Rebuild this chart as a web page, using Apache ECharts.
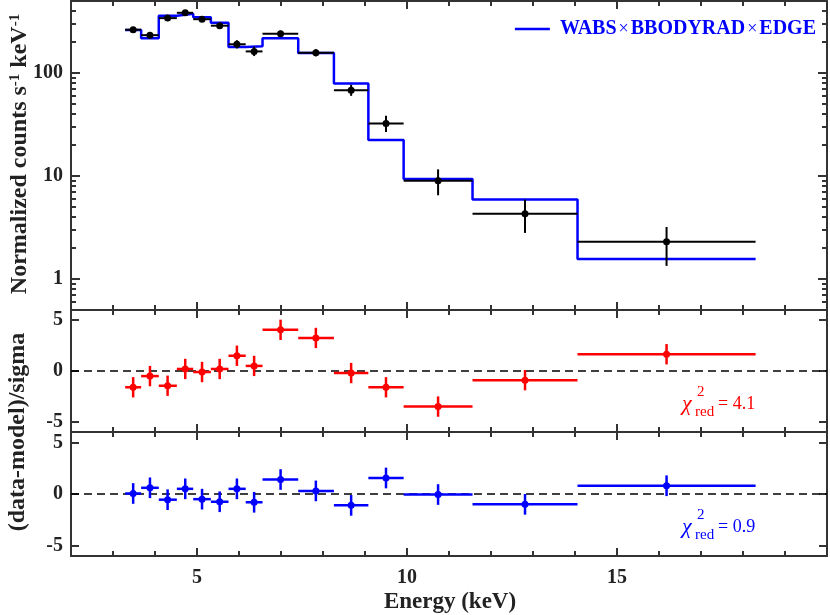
<!DOCTYPE html>
<html>
<head>
<meta charset="utf-8">
<script src="https://cdn.jsdelivr.net/npm/echarts@6.0.0/dist/echarts.min.js"></script>
<style>
  html, body { margin: 0; padding: 0; background: #fff; }
  #chart { width: 830px; height: 615px; }
</style>
</head>
<body>
<div id="chart"></div>
<script>
// spectral bins (keV)
const binLo = [3.29, 3.67, 4.09, 4.52, 4.91, 5.33, 5.75, 6.16, 6.56, 7.41, 8.26, 9.08, 9.92, 11.56, 14.06];
const binHi = [3.67, 4.09, 4.52, 4.91, 5.33, 5.75, 6.16, 6.56, 7.41, 8.26, 9.08, 9.92, 11.56, 14.06, 18.30];
const energy = [3.48, 3.88, 4.30, 4.72, 5.12, 5.54, 5.95, 6.36, 6.99, 7.83, 8.67, 9.50, 10.74, 12.81, 16.18];

// normalized counts s^-1 keV^-1
const counts = [263, 233, 341, 384, 333, 288, 190, 162, 240, 157, 68, 32.4, 9.0, 4.3, 2.3];
const countsLo = [247, 217, 323, 366, 315, 270, 173, 146, 224, 145, 60, 26.8, 6.5, 2.8, 1.34];
const countsHi = [280, 250, 359, 402, 351, 306, 208, 180, 257, 170, 77, 38.5, 11.6, 5.9, 3.2];
const model = [262, 218, 359, 375, 348, 308, 179, 182, 218, 156, 79, 22.4, 9.35, 5.9, 1.56];

// residuals (data-model)/sigma
const resRed = [-1.6, -0.5, -1.45, 0.2, -0.1, 0.2, 1.5, 0.5, 4.05, 3.25, -0.2, -1.6, -3.5, -0.9, 1.65];
const resBlue = [0.05, 0.6, -0.55, 0.5, -0.5, -0.75, 0.5, -0.8, 1.4, 0.3, -1.1, 1.55, -0.05, -1.0, 0.8];
const resErr = 1;

const xMajor = [5, 10, 15];
const xMinor = [3, 4, 6, 7, 8, 9, 11, 12, 13, 14, 16, 17, 18, 19];
const yLogMajor = [1, 10, 100];
const yLogMinor = [0.6, 0.7, 0.8, 0.9, 2, 3, 4, 5, 6, 7, 8, 9, 20, 30, 40, 50, 60, 70, 80, 90, 200, 300, 400];
const yResTicks = [-5, 0, 5];

const modelName = 'WABS×BBODYRAD×EDGE';
const FONT = 'Liberation Serif';
const AX = '#333';

const grids = [
  { left: 71, width: 756, top: 1, height: 309 },
  { left: 71, width: 756, top: 310, height: 122 },
  { left: 71, width: 756, top: 432, height: 124 }
];

function xAx(g, pos, ticks, len, line, label) {
  return {
    type: 'value', gridIndex: g, position: pos, min: 2, max: 20,
    axisLine: { show: line, onZero: false, lineStyle: { color: AX, width: 2 } },
    axisTick: { show: true, inside: true, length: len, customValues: ticks, lineStyle: { color: AX, width: 2 } },
    axisLabel: { show: label, customValues: xMajor, margin: 12, color: '#222',
      fontFamily: FONT, fontWeight: 'bold', fontSize: 20 },
    splitLine: { show: false }
  };
}

function yAx(g, pos, type, ticks, len, line, label) {
  let ax = {
    type: type, gridIndex: g, position: pos,
    axisLine: { show: line, onZero: false, lineStyle: { color: AX, width: 2 } },
    axisTick: { show: true, inside: true, length: len, customValues: ticks, lineStyle: { color: AX, width: 2 } },
    axisLabel: { show: label, customValues: ticks, margin: 8, color: '#222',
      fontFamily: FONT, fontWeight: 'bold', fontSize: 20 },
    splitLine: { show: false }
  };
  if (type === 'log') {
    ax.logBase = 10; ax.min = 0.5; ax.max = 500;
  } else {
    ax.min = -6; ax.max = 6;
  }
  return ax;
}

let xAxes = [];
for (let g = 0; g < 3; g++) {
  xAxes.push(xAx(g, 'bottom', xMajor, 8, true, g === 2));
  xAxes.push(xAx(g, 'bottom', xMinor, 5, false, false));
  xAxes.push(xAx(g, 'top', xMajor, 8, true, false));
  xAxes.push(xAx(g, 'top', xMinor, 5, false, false));
}

let yAxes = [
  yAx(0, 'left', 'log', yLogMajor, 9, true, true),
  yAx(0, 'left', 'log', yLogMinor, 5, false, false),
  yAx(0, 'right', 'log', yLogMajor, 9, true, false),
  yAx(0, 'right', 'log', yLogMinor, 5, false, false),
  yAx(1, 'left', 'value', yResTicks, 8, true, true),
  yAx(1, 'right', 'value', yResTicks, 8, true, false),
  yAx(2, 'left', 'value', yResTicks, 8, true, true),
  yAx(2, 'right', 'value', yResTicks, 8, true, false)
];

// [energy, value, binLo, binHi, errLo, errHi]
let specData = energy.map((e, i) => [e, counts[i], binLo[i], binHi[i], countsLo[i], countsHi[i]]);
let redData = energy.map((e, i) => [e, resRed[i], binLo[i], binHi[i], resRed[i] - resErr, resRed[i] + resErr]);
let blueData = energy.map((e, i) => [e, resBlue[i], binLo[i], binHi[i], resBlue[i] - resErr, resBlue[i] + resErr]);

let modelSteps = binLo.map((e, i) => [e, model[i]]);
modelSteps.push([binHi[binHi.length - 1], model[model.length - 1]]);

function errBars(color, lw, r) {
  return function (params, api) {
    let c = api.coord([api.value(0), api.value(1)]);
    let l = api.coord([api.value(2), api.value(1)]);
    let rr = api.coord([api.value(3), api.value(1)]);
    let b = api.coord([api.value(0), api.value(4)]);
    let t = api.coord([api.value(0), api.value(5)]);
    return {
      type: 'group',
      children: [
        { type: 'line', shape: { x1: l[0], y1: l[1], x2: rr[0], y2: rr[1] }, style: { stroke: color, lineWidth: lw } },
        { type: 'line', shape: { x1: b[0], y1: b[1], x2: t[0], y2: t[1] }, style: { stroke: color, lineWidth: lw } },
        { type: 'circle', shape: { cx: c[0], cy: c[1], r: r }, style: { fill: color } }
      ]
    };
  };
}

function zeroLine(xi, yi) {
  return {
    type: 'line', xAxisIndex: xi, yAxisIndex: yi, data: [[2, 0], [20, 0]],
    symbol: 'none', silent: true, z: 1,
    lineStyle: { color: '#000', width: 1.5, type: [8, 5] }
  };
}

function chiLabel(y, value, color) {
  return [
    { type: 'text', x: 682, y: y, style: { text: 'χ', textVerticalAlign: 'middle', font: 'italic 22px "Liberation Serif"', fill: color } },
    { type: 'text', x: 697, y: y - 12, style: { text: '2', textVerticalAlign: 'middle', font: '15px "Liberation Serif"', fill: color } },
    { type: 'text', x: 695, y: y + 8, style: { text: 'red', textVerticalAlign: 'middle', font: '15px "Liberation Serif"', fill: color } },
    { type: 'text', x: 718, y: y, style: { text: '= ' + value, textVerticalAlign: 'middle', font: '18px "Liberation Serif"', fill: color } }
  ];
}

const chart = echarts.init(document.getElementById('chart'));
chart.setOption({
  animation: false,
  backgroundColor: '#fff',
  grid: grids,
  xAxis: xAxes,
  yAxis: yAxes,
  legend: {
    data: [modelName],
    right: 9, top: 14,
    icon: 'rect', itemWidth: 35, itemHeight: 2.5, itemGap: 0,
    formatter: () => 'WABS{x|×}BBODYRAD{x|×}EDGE',
    textStyle: {
      color: '#0000ff', fontFamily: FONT, fontWeight: 'bold', fontSize: 20, padding: [0, 0, 0, 5],
      rich: { x: { color: '#0000ff', fontFamily: FONT, fontWeight: 'normal', fontSize: 18, padding: [0, 2, 0, 2] } }
    }
  },
  series: [
    {
      name: modelName, type: 'line', xAxisIndex: 0, yAxisIndex: 0,
      step: 'end', data: modelSteps, symbol: 'none', z: 2,
      lineStyle: { color: '#0000ff', width: 2.5 }, itemStyle: { color: '#0000ff' }
    },
    {
      name: 'data', type: 'custom', xAxisIndex: 0, yAxisIndex: 0, z: 3,
      data: specData, renderItem: errBars('#000', 2, 3.5), encode: { x: 0, y: 1 }
    },
    zeroLine(4, 4),
    {
      name: 'res1', type: 'custom', xAxisIndex: 4, yAxisIndex: 4, z: 3,
      data: redData, renderItem: errBars('#ff0000', 2.5, 3.5), encode: { x: 0, y: 1 }
    },
    zeroLine(8, 6),
    {
      name: 'res2', type: 'custom', xAxisIndex: 8, yAxisIndex: 6, z: 3,
      data: blueData, renderItem: errBars('#0000ff', 2.5, 3.5), encode: { x: 0, y: 1 }
    }
  ],
  graphic: [
    {
      type: 'text', x: 20, y: 154, rotation: Math.PI / 2,
      style: {
        text: 'Normalized counts s{sup|-1} keV{sup|-1}',
        textAlign: 'center', textVerticalAlign: 'middle',
        font: 'bold 24px "Liberation Serif"', fill: '#222',
        rich: { sup: { fontSize: 15, fontWeight: 'bold', fontFamily: FONT, verticalAlign: 'top', fill: '#222' } }
      }
    },
    {
      type: 'text', x: 18, y: 432, rotation: Math.PI / 2,
      style: {
        text: '(data-model)/sigma', textAlign: 'center', textVerticalAlign: 'middle',
        font: 'bold 24px "Liberation Serif"', fill: '#222'
      }
    },
    {
      type: 'text', x: 450, y: 602,
      style: {
        text: 'Energy (keV)', textAlign: 'center', textVerticalAlign: 'middle',
        font: 'bold 23px "Liberation Serif"', fill: '#222'
      }
    }
  ].concat(chiLabel(404, '4.1', '#ff0000'), chiLabel(527, '0.9', '#0000ff'))
});
</script>
</body>
</html>
